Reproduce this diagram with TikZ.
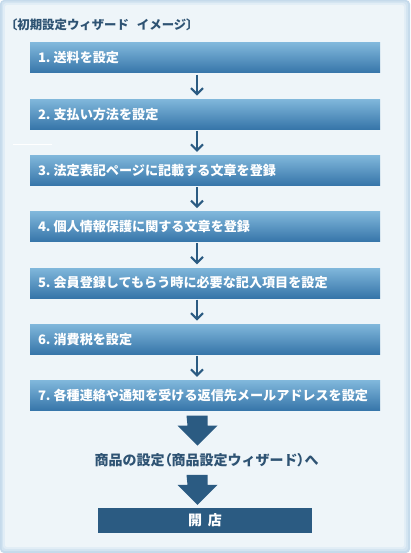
\documentclass[tikz,border=0pt]{standalone}
\usepackage{fontspec}
\newfontfamily\jp{Noto Sans CJK JP}
\newfontfamily\jpp{Noto Sans CJK JP}[RawFeature=+palt]
\usetikzlibrary{calc,arrows.meta}
\definecolor{bgin}{HTML}{EEF5F9}
\definecolor{frame1}{HTML}{C5DAEB}
\definecolor{frame2}{HTML}{D3E4F1}
\definecolor{frame3}{HTML}{E1EDF6}
\definecolor{boxtop}{HTML}{80B7DB}
\definecolor{boxbot}{HTML}{3675A9}
\definecolor{darkb}{HTML}{2B5B82}
\definecolor{titlec}{HTML}{2E5373}
\tikzset{
  x=1pt,y=-1pt,
  stepbox/.style={minimum width=350pt,minimum height=30pt,text width=334pt,inner xsep=8pt,inner ysep=0pt,
    align=left,top color=boxtop,bottom color=boxbot,text=white,font=\jp\bfseries\fontsize{13.1}{15}\selectfont},
  thinarrow/.style={draw=darkb,line width=2pt,-{Straight Barb[length=6pt,width=12pt,line width=2pt]}},
  bigarrow/.style={fill=darkb},
}
\newcommand\nsp{\hspace{3pt}}
\begin{document}
\begin{tikzpicture}
\useasboundingbox (0,0) rectangle (410,553);
% frame
\fill[frame1,rounded corners=4pt] (0,0) rectangle (410,553);
\fill[frame2,rounded corners=3pt] (1.5,1.5) rectangle (408,551);
\fill[frame3,rounded corners=3pt] (3,3) rectangle (406,549);
\fill[bgin,rounded corners=2pt] (5,5) rectangle (404,547);
% stray white line
\draw[white,line width=1pt] (13,145) -- (52,145);
% title
\node[anchor=west,inner sep=0pt,text=titlec,font=\jp\bfseries\fontsize{12.4}{14}\selectfont] (title) at (11,25) {{\jpp〔}初期設定ウィザード\hspace{8pt}イメージ{\jpp〕}};
% boxes
\node[stepbox] (b1) at (205,58) {1.\nsp{}送料を設定};
\node[stepbox] (b2) at (205,114.25) {2.\nsp{}支払い方法を設定};
\node[stepbox] (b3) at (205,170.5) {3.\nsp{}法定表記ページに記載する文章を登録};
\node[stepbox] (b4) at (205,226.75) {4.\nsp{}個人情報保護に関する文章を登録};
\node[stepbox] (b5) at (205,283) {5.\nsp{}会員登録してもらう時に必要な記入項目を設定};
\node[stepbox] (b6) at (205,339.25) {6.\nsp{}消費税を設定};
\node[stepbox] (b7) at (205,395.5) {7.\nsp{}各種連絡や通知を受ける返信先メールアドレスを設定};
% thin arrows
\foreach \a/\b in {b1/b2,b2/b3,b3/b4,b4/b5,b5/b6,b6/b7}{
  \draw[thinarrow,shorten <=1.5pt,shorten >=3.5pt] ([xshift=-8pt]\a.south) -- ([xshift=-8pt]\b.north);
}
% text node
\node[inner sep=0pt,text=titlec,font=\jp\bfseries\fontsize{14}{16}\selectfont] (next) at (206.5,460) {商品の設定{\jpp（}商品設定ウィザード{\jpp）}へ};
% final box
\node[fill=darkb,minimum width=214pt,minimum height=25pt,inner sep=0pt,text=white,font=\jp\bfseries\fontsize{14}{15}\selectfont] (open) at (205,520.5) {開\hspace{6pt}店};
% big arrows
\fill[bigarrow] ($(b7.south)+(-18.5,5)$) -- ++(21,0) -- ++(0,10) -- ++(10,0) -- ++(-20,20) -- ++(-20,-20) -- ++(10,0) -- cycle;
\fill[bigarrow] ($(open.north)+(-18.5,-33)$) -- ++(21,0) -- ++(0,10) -- ++(10,0) -- ++(-20,20) -- ++(-20,-20) -- ++(10,0) -- cycle;
\end{tikzpicture}
\end{document}
